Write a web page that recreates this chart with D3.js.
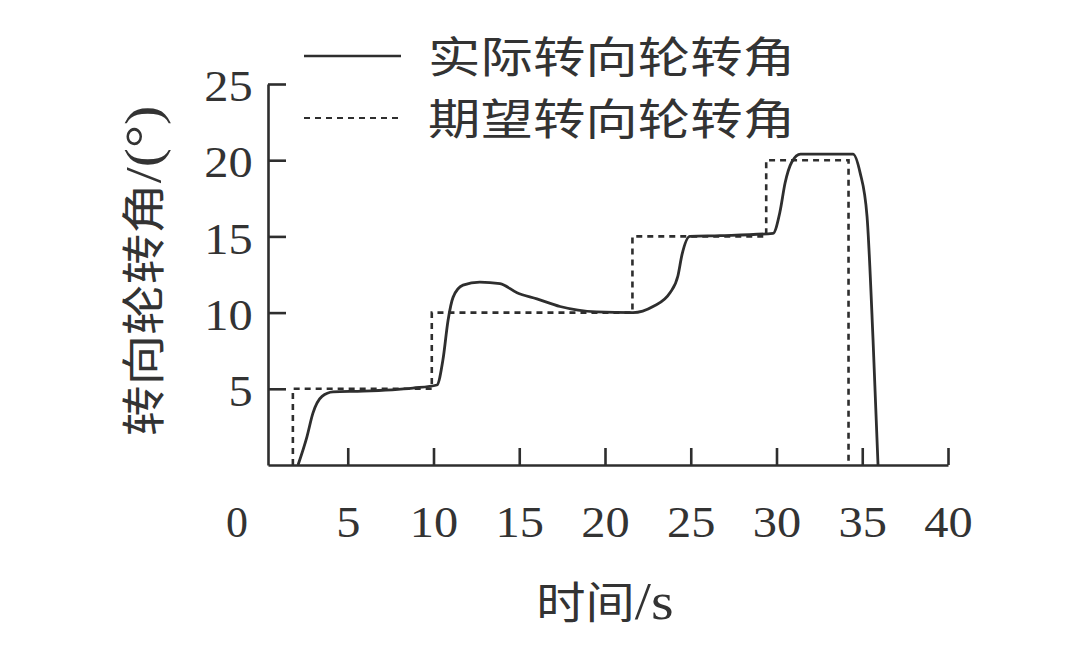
<!DOCTYPE html>
<html>
<head>
<meta charset="utf-8">
<script src="https://cdn.jsdelivr.net/npm/d3@7/dist/d3.min.js"></script>
<style>
  body { margin: 0; background: #fff; }
  svg text { fill: #333; }
  .num { font-family: "Liberation Serif", "Times New Roman", serif; }
  .cjk { font-family: "Noto Sans CJK SC", sans-serif; font-weight: 400; }
</style>
</head>
<body>
<div id="chart"></div>
<script>
// time (s) and angle (deg)
const actualT = [2.1, 2.62, 2.97, 3.5, 4.14, 5.89, 8.8, 10.2, 10.55, 10.85, 11.14, 11.72, 12.7, 13.88, 14.87, 16.03, 17.38, 19.5, 21.63, 22.8, 23.79, 24.25, 24.49, 24.95, 26.7, 29.8, 30.2, 30.5, 30.9, 31.4, 34.46, 34.87, 35.28, 35.63, 35.92];
const actualV = [0, 1.85, 3.4, 4.5, 4.8, 4.85, 5.05, 5.25, 6.9, 9.5, 11.0, 11.8, 12.0, 11.9, 11.3, 10.9, 10.4, 10.05, 10.0, 10.4, 11.3, 12.4, 13.8, 15.0, 15.05, 15.2, 16.6, 18.5, 19.9, 20.4, 20.4, 19.2, 16.3, 8.2, 0];
const expectedT = [1.8, 1.8, 9.9, 9.9, 21.6, 21.6, 29.4, 29.4, 34.2, 34.2];
const expectedV = [0, 5, 5, 10, 10, 15, 15, 20, 20, 0];
const xTicks = [5, 10, 15, 20, 25, 30, 35, 40];
const yTicks = [5, 10, 15, 20, 25];
const legendLabels = ["实际转向轮转角", "期望转向轮转角"];

const width = 1080, height = 651;
const serif = '"Liberation Serif", "Times New Roman", serif';
const svg = d3.select("#chart").append("svg")
  .attr("width", width)
  .attr("height", height);

// axis origin sits a little right of t = 0 in the original
const x = d3.scaleLinear().domain([0.35, 40]).range([268, 948]);
const y = d3.scaleLinear().domain([0, 25]).range([465, 84]);

const ink = "#2e2e2e";

// X axis, ticks pointing up
const xAxis = svg.append("g")
  .attr("transform", `translate(0,${y(0)})`)
  .call(d3.axisBottom(x).tickValues(xTicks).tickSize(-17).tickSizeOuter(0));
xAxis.select(".domain").attr("stroke", ink).attr("stroke-width", 2.6);
xAxis.selectAll(".tick line").attr("stroke", ink).attr("stroke-width", 2.6);
xAxis.selectAll(".tick text")
  .attr("class", "num")
  .attr("font-size", 44)
  .attr("transform", "scale(1.1,1)")
  .attr("dy", "0.72em")
  .attr("y", 40);

// origin label "0"
svg.append("text")
  .attr("class", "num")
  .attr("x", x(0.35) - 31)
  .attr("y", y(0) + 40)
  .attr("dy", "0.72em")
  .attr("text-anchor", "middle")
  .attr("font-size", 44)
  .text("0");

// Y axis, ticks pointing right
const yAxis = svg.append("g")
  .attr("transform", `translate(${x(0.35)},0)`)
  .call(d3.axisLeft(y).tickValues(yTicks).tickSize(-18).tickSizeOuter(0));
yAxis.select(".domain").attr("stroke", ink).attr("stroke-width", 2.6);
yAxis.selectAll(".tick line").attr("stroke", ink).attr("stroke-width", 2.6);
yAxis.selectAll(".tick text")
  .attr("class", "num")
  .attr("font-size", 44)
  .attr("x", -14)
  .attr("dy", "0.38em")
  .attr("transform", "scale(1.1,1)");

// lines
const lineGen = d3.line().x(d => x(d[0])).y(d => y(d[1]));

svg.append("path")
  .datum(expectedT.map((t, i) => [t, expectedV[i]]))
  .attr("fill", "none")
  .attr("stroke", ink)
  .attr("stroke-width", 2.6)
  .attr("stroke-dasharray", "6,5")
  .attr("d", lineGen);

svg.append("path")
  .datum(actualT.map((t, i) => [t, actualV[i]]))
  .attr("fill", "none")
  .attr("stroke", ink)
  .attr("stroke-width", 2.8)
  .attr("d", lineGen.curve(d3.curveMonotoneX));

// axis titles
const xTitle = svg.append("text")
  .attr("class", "cjk")
  .attr("transform", `translate(${x(20)},603) scale(1.12,1)`)
  .attr("text-anchor", "middle")
  .attr("dy", "0.36em")
  .attr("font-size", 44);
xTitle.append("tspan").text("时间");
xTitle.append("tspan").style("font-family", serif).attr("font-size", 52).text("/s");

const yTitle = svg.append("text")
  .attr("class", "cjk")
  .attr("transform", "translate(144,271) rotate(-90) scale(1.15,1)")
  .attr("text-anchor", "middle")
  .attr("dy", "0.36em")
  .attr("font-size", 44);
yTitle.append("tspan").text("转向轮转角");
yTitle.append("tspan").style("font-family", serif).attr("font-size", 50).text("/(°)");

// legend
const legend = svg.append("g");
legendLabels.forEach((label, i) => {
  const ly = 56 + i * 62;
  legend.append("line")
    .attr("x1", 304).attr("x2", 401)
    .attr("y1", ly).attr("y2", ly)
    .attr("stroke", ink)
    .attr("stroke-width", i === 0 ? 2.6 : 2.2)
    .attr("stroke-dasharray", i === 0 ? null : "6,5");
  legend.append("text")
    .attr("class", "cjk")
    .attr("transform", `translate(428,${ly + 2}) scale(1.22,1)`)
    .attr("dy", "0.36em")
    .attr("font-size", 43)
    .text(label);
});
</script>
</body>
</html>
